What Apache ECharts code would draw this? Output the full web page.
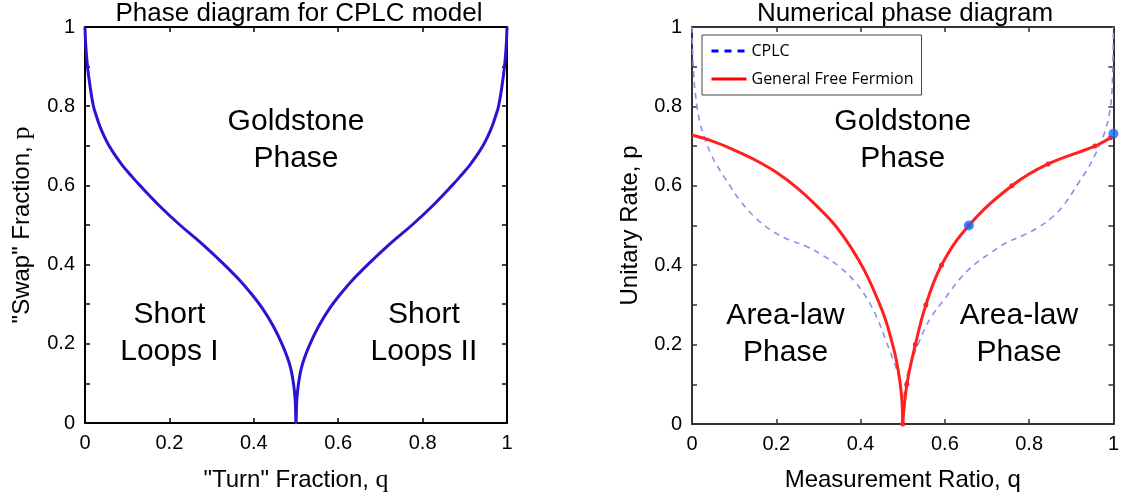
<!DOCTYPE html>
<html>
<head>
<meta charset="utf-8">
<script src="https://cdn.jsdelivr.net/npm/echarts@6/dist/echarts.min.js"></script>
<style>
html,body{margin:0;padding:0;background:#fff;}
#chart{width:1122px;height:498px;}
</style>
</head>
<body>
<div id="chart"></div>
<script>
// ---- Data ----
// Left panel: CPLC phase boundary
const cplcQ = [0, 0.002, 0.006, 0.012, 0.02, 0.027, 0.035, 0.045, 0.057, 0.072, 0.089, 0.109, 0.13, 0.175, 0.225, 0.28, 0.33, 0.367, 0.395, 0.42, 0.446, 0.469, 0.486, 0.494, 0.498, 0.5,
               0.502, 0.506, 0.514, 0.531, 0.554, 0.58, 0.605, 0.633, 0.67, 0.72, 0.775, 0.825, 0.87, 0.891, 0.911, 0.928, 0.943, 0.955, 0.965, 0.973, 0.98, 0.988, 0.994, 0.998, 1];
const cplcP = [1, 0.95, 0.9, 0.85, 0.8, 0.775, 0.75, 0.725, 0.7, 0.675, 0.65, 0.625, 0.6, 0.55, 0.5, 0.45, 0.4, 0.36, 0.325, 0.29, 0.245, 0.194, 0.144, 0.1, 0.06, 0,
               0.06, 0.1, 0.144, 0.194, 0.245, 0.29, 0.325, 0.36, 0.4, 0.45, 0.5, 0.55, 0.6, 0.625, 0.65, 0.675, 0.7, 0.725, 0.75, 0.775, 0.8, 0.85, 0.9, 0.95, 1];

// Right panel: CPLC (dashed)
const dashQ = [0, 0.004, 0.012, 0.02, 0.03, 0.045, 0.06, 0.09, 0.113, 0.15, 0.192, 0.23, 0.272, 0.31, 0.35, 0.385, 0.413, 0.44, 0.46, 0.478, 0.49, 0.497, 0.5,
               0.503, 0.51, 0.522, 0.54, 0.565, 0.603, 0.635, 0.674, 0.71, 0.745, 0.785, 0.823, 0.856, 0.886, 0.917, 0.94, 0.955, 0.968, 0.981, 0.99, 0.995, 0.998, 1];
const dashP = [1, 0.88, 0.8, 0.755, 0.72, 0.68, 0.65, 0.6, 0.564, 0.52, 0.485, 0.464, 0.447, 0.425, 0.396, 0.36, 0.32, 0.265, 0.21, 0.16, 0.12, 0.07, 0,
               0.07, 0.12, 0.16, 0.21, 0.265, 0.32, 0.365, 0.405, 0.432, 0.456, 0.475, 0.496, 0.522, 0.557, 0.607, 0.645, 0.675, 0.705, 0.74, 0.78, 0.816, 0.88, 1];

// Right panel: General Free Fermion, left branch (no markers)
const gffLeftQ = [0, 0.05, 0.1, 0.15, 0.2, 0.25, 0.3, 0.34, 0.38, 0.41, 0.44, 0.46, 0.475, 0.485, 0.493, 0.498, 0.5];
const gffLeftP = [0.728, 0.712, 0.69, 0.665, 0.634, 0.594, 0.545, 0.5, 0.44, 0.385, 0.315, 0.26, 0.204, 0.16, 0.11, 0.06, 0];

// Right panel: General Free Fermion, right branch (sampled points)
const gffRightQ = [0.5, 0.51, 0.53, 0.555, 0.592, 0.657, 0.759, 0.845, 0.956, 0.993];
const gffRightP = [0, 0.1, 0.2, 0.3, 0.4, 0.5, 0.6, 0.655, 0.70, 0.721];

// Right panel: highlighted points
const blueQ = [0.657, 1.0];
const blueP = [0.5, 0.731];

// Tick values
const xTicks = [0, 0.2, 0.4, 0.6, 0.8, 1];
const yTickStep = 0.1;

// Texts
const titles = ['Phase diagram for CPLC model', 'Numerical phase diagram'];
const leftRegions = ['Goldstone\nPhase', 'Short\nLoops I', 'Short\nLoops II'];
const rightRegions = ['Goldstone\nPhase', 'Area-law\nPhase', 'Area-law\nPhase'];
const legendNames = ['CPLC', 'General Free Fermion'];

const zip = (a, b) => a.map((v, i) => [v, b[i]]);

const FONT = 'Liberation Sans';
const grids = [
  {left: 85, top: 27, width: 422, height: 397},
  {left: 692, top: 27, width: 423, height: 397}
];

function yFmt(v) {
  const k = Math.round(v * 10);
  if (k % 2 !== 0) return '';
  return String(k / 10);
}

function axes(gi, axColor, xName, yName, xGap, yGap) {
  const line = {show: true, onZero: false, lineStyle: {color: axColor, width: 2}};
  const tick = {show: true, inside: true, length: 5, lineStyle: {color: axColor, width: 1.5}};
  const lab = {color: '#000', fontFamily: FONT, fontSize: 20, margin: 10};
  const nameStyle = {color: '#000', fontFamily: FONT, fontSize: 24,
    rich: {s: {fontFamily: 'Liberation Serif', fontSize: 26, color: '#000'}}};
  return {
    x: [
      {type: 'value', gridIndex: gi, min: 0, max: 1, interval: 0.2, position: 'bottom',
       axisLine: line, axisTick: tick, splitLine: {show: false},
       axisLabel: Object.assign({}, lab, {formatter: v => (xTicks.some(t => Math.abs(t - v) < 1e-6) ? String(Math.round(v * 10) / 10) : '')}),
       name: xName, nameLocation: 'middle', nameGap: xGap, nameTextStyle: nameStyle},
      {type: 'value', gridIndex: gi, min: 0, max: 1, interval: 0.2, position: 'top',
       axisLine: line, axisTick: tick, splitLine: {show: false}, axisLabel: {show: false}}
    ],
    y: [
      {type: 'value', gridIndex: gi, min: 0, max: 1, interval: yTickStep, position: 'left',
       axisLine: line, axisTick: tick, splitLine: {show: false},
       axisLabel: Object.assign({}, lab, {formatter: yFmt}),
       name: yName, nameLocation: 'middle', nameGap: yGap, nameTextStyle: nameStyle},
      {type: 'value', gridIndex: gi, min: 0, max: 1, interval: yTickStep, position: 'right',
       axisLine: line, axisTick: tick, splitLine: {show: false}, axisLabel: {show: false}}
    ]
  };
}

const a0 = axes(0, '#000', '"Turn" Fraction, {s|q}', '"Swap" Fraction, {s|p}', 44, 50);
const a1 = axes(1, '#333', 'Measurement Ratio, q', 'Unitary Rate, p', 44, 50);

const regionLabel = {show: true, position: 'inside', color: '#000000', opacity: 1, textBorderWidth: 0,
  fontFamily: FONT, fontSize: 30, lineHeight: 37, align: 'center', verticalAlign: 'middle'};

function labelSeries(xi, yi, pts, texts) {
  return {
    type: 'scatter', xAxisIndex: xi, yAxisIndex: yi, symbolSize: 1, silent: true, z: 5,
    itemStyle: {opacity: 0},
    data: pts.map((p, i) => ({value: p, name: texts[i]})),
    label: Object.assign({}, regionLabel, {formatter: pa => pa.name})
  };
}

const option = {
  animation: false,
  backgroundColor: '#fff',
  title: [
    {text: titles[0], left: 299, top: 1, textAlign: 'center', padding: 0,
     textStyle: {fontFamily: FONT, fontSize: 26, fontWeight: 'normal', color: '#000'}},
    {text: titles[1], left: 905, top: 1, textAlign: 'center', padding: 0,
     textStyle: {fontFamily: FONT, fontSize: 26, fontWeight: 'normal', color: '#000'}}
  ],
  legend: {
    orient: 'vertical', left: 702, top: 35, padding: [8, 8, 8, 8],
    itemWidth: 35, itemHeight: 14, itemGap: 12,
    borderColor: '#444', borderWidth: 1, backgroundColor: '#fff',
    textStyle: {fontFamily: 'Open Sans', fontSize: 16, color: '#000'},
    itemStyle: {opacity: 0},
    data: [
      {name: legendNames[0], lineStyle: {color: '#0000ff', width: 3, type: [7, 6]}, itemStyle: {opacity: 0}},
      {name: legendNames[1], lineStyle: {color: '#ff0000', width: 3}, itemStyle: {opacity: 0}}
    ]
  },
  grid: grids,
  xAxis: [...a0.x, ...a1.x],
  yAxis: [...a0.y, ...a1.y],
  series: [
    {type: 'line', name: 'CPLC-left', xAxisIndex: 0, yAxisIndex: 0, data: zip(cplcQ, cplcP),
     symbol: 'none', smooth: 0.4, lineStyle: {color: '#2a14d4', width: 3}, z: 3},
    {type: 'line', name: legendNames[0], xAxisIndex: 2, yAxisIndex: 2, data: zip(dashQ, dashP),
     symbol: 'none', smooth: 0.4, lineStyle: {color: '#8e8ef0', width: 1.6, type: [6, 5]},
     itemStyle: {color: '#0000ff'}, z: 2},
    {type: 'line', name: legendNames[1], xAxisIndex: 2, yAxisIndex: 2, data: zip(gffLeftQ, gffLeftP),
     symbol: 'none', smooth: 0.4, lineStyle: {color: '#ff2020', width: 3}, itemStyle: {color: '#ff2020'}, z: 3},
    {type: 'line', name: legendNames[1], xAxisIndex: 2, yAxisIndex: 2, data: zip(gffRightQ, gffRightP),
     symbol: 'circle', symbolSize: 5, showAllSymbol: true, smooth: 0.4,
     lineStyle: {color: '#ff2020', width: 3}, itemStyle: {color: '#ff2020'}, z: 3},
    {type: 'scatter', name: 'points', xAxisIndex: 2, yAxisIndex: 2, data: zip(blueQ, blueP),
     symbol: 'circle', symbolSize: 10, itemStyle: {color: '#1a6cf5'}, z: 4},
    labelSeries(0, 0, [[0.5, 0.715], [0.2, 0.227], [0.803, 0.227]], leftRegions),
    labelSeries(2, 2, [[0.5, 0.715], [0.222, 0.227], [0.776, 0.227]], rightRegions)
  ]
};

const chart = echarts.init(document.getElementById('chart'), null, {renderer: 'canvas'});
chart.setOption(option);
</script>
</body>
</html>
